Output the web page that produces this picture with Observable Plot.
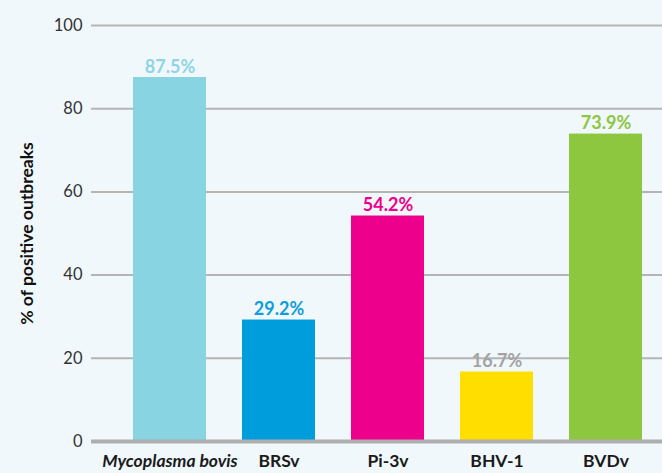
<!DOCTYPE html>
<html><head><meta charset="utf-8">
<script src="https://cdn.jsdelivr.net/npm/d3@7"></script>
<script src="https://cdn.jsdelivr.net/npm/@observablehq/plot@0.6"></script>
<style>html,body{margin:0;padding:0;background:#f1f8fb}</style>
</head><body><div id="chart"></div><script>
const categories = ["Mycoplasma bovis", "BRSv", "Pi-3v", "BHV-1", "BVDv"];
const values = [87.5, 29.2, 54.2, 16.7, 73.9];
const valueLabels = ["87.5%", "29.2%", "54.2%", "16.7%", "73.9%"];
const barColors = ["#89d4e3", "#009ddc", "#ec008c", "#ffde00", "#8dc63f"];
const labelColors = ["#8fd5e5", "#0f9ddb", "#ec008c", "#a3a3a3", "#8dc63f"];
const yTicks = [0, 20, 40, 60, 80, 100];
const yLabel = "% of positive outbreaks";

const data = categories.map((c, i) => ({
  category: c, value: values[i], label: valueLabels[i], fill: barColors[i], labelColor: labelColors[i]
}));

const chart = Plot.plot({
  width: 662, height: 473,
  marginLeft: 91, marginRight: 0, marginTop: 25, marginBottom: 32,
  style: {background: "#f1f8fb", fontFamily: "Lato, sans-serif"},
  x: {domain: categories, range: [97, 678], paddingInner: 0.33, paddingOuter: 0.33},
  y: {domain: [0, 100]},
  marks: [
    Plot.ruleY(yTicks.filter(t => t > 0), {stroke: "#b5b5b5", strokeWidth: 2}),
    Plot.barY(data, {x: "category", y: "value", fill: "fill"}),
    Plot.ruleY([0], {stroke: "#aeaeae", strokeWidth: 4}),
    Plot.text(data, {x: "category", y: "value", text: "label", fill: "labelColor", lineAnchor: "bottom", dy: -5, fontSize: 18, fontWeight: "bold"}),
    Plot.axisY({ticks: yTicks, tickSize: 0, tickPadding: 9, fontSize: 16.5, fill: "#333", label: null}),
    Plot.axisY({ticks: [], label: yLabel, labelAnchor: "center", labelArrow: "none", labelOffset: 71, dy: -5, fontSize: 17.5, fontWeight: "bold", fill: "#111"}),
    Plot.axisX({ticks: categories.slice(0, 1), tickSize: 0, tickPadding: 13, fontSize: 17.5, fontWeight: "bold", fontStyle: "italic", fill: "#1a1a1a", label: null}),
    Plot.axisX({ticks: categories.slice(1), tickSize: 0, tickPadding: 13, fontSize: 17.5, fontWeight: "bold", fill: "#1a1a1a", label: null})
  ]
});
document.getElementById("chart").appendChild(chart);
</script></body></html>
